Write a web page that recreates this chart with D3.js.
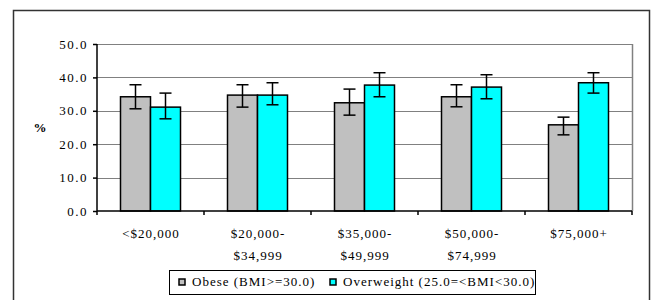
<!DOCTYPE html>
<html><head><meta charset="utf-8">
<script src="https://cdn.jsdelivr.net/npm/d3@7"></script>
<style>body{margin:0;background:#fff}svg{display:block}text{font-family:"Liberation Serif","Times New Roman",serif;fill:#000}</style>
</head><body><svg id="c" width="652" height="300"></svg>
<script>
const categories = [["<$20,000"], ["$20,000-", "$34,999"], ["$35,000-", "$49,999"], ["$50,000-", "$74,999"], ["$75,000+"]];
const seriesNames = ["Obese (BMI>=30.0)", "Overweight (25.0=<BMI<30.0)"];
const obese = [34.2, 34.7, 32.4, 34.2, 25.8];
const obeseLow = [30.6, 31.1, 28.7, 31.2, 22.8];
const obeseHigh = [37.8, 37.8, 36.5, 37.8, 28.1];
const overweight = [31.1, 34.7, 37.7, 37.1, 38.4];
const overweightLow = [27.6, 31.8, 34.2, 33.6, 35.3];
const overweightHigh = [35.3, 38.4, 41.4, 40.8, 41.4];
const yTicks = [0, 10, 20, 30, 40, 50];
const colors = ["#c0c0c0", "#00ffff"];

const svg = d3.select("#c");
const L = 97, R = 632, T = 44, B = 211;

svg.append("rect").attr("x", 13.5).attr("y", 10.5).attr("width", 636).attr("height", 295)
  .attr("fill", "none").attr("stroke", "#333").attr("stroke-width", 1.5);

const x = d3.scaleBand().domain(d3.range(categories.length)).range([L, R]);
const xs = d3.scaleBand().domain([0, 1]).range([0, 60]);
const y = d3.scaleLinear().domain([0, 50]).range([B, T]);

// grid
svg.append("g").selectAll("line").data(yTicks.filter(d => d > 0)).join("line")
  .attr("x1", L).attr("x2", R).attr("y1", d => Math.round(y(d)) + 0.5).attr("y2", d => Math.round(y(d)) + 0.5)
  .attr("stroke", "#808080").attr("stroke-width", 1);
svg.append("line").attr("x1", R + 0.5).attr("x2", R + 0.5).attr("y1", T).attr("y2", B)
  .attr("stroke", "#808080").attr("stroke-width", 1.5);

const series = [
  {v: obese, lo: obeseLow, hi: obeseHigh},
  {v: overweight, lo: overweightLow, hi: overweightHigh}
];
series.forEach((s, si) => {
  const g = svg.append("g");
  g.selectAll("rect").data(s.v).join("rect")
    .attr("x", (d, i) => x(i) + (x.bandwidth() - 60) / 2 + xs(si))
    .attr("y", d => y(d)).attr("width", xs.bandwidth()).attr("height", d => B - y(d))
    .attr("fill", colors[si]).attr("stroke", "#000").attr("stroke-width", 1.5);
});
series.forEach((s, si) => {
  const g = svg.append("g");
  s.v.forEach((d, i) => {
    const cx = x(i) + (x.bandwidth() - 60) / 2 + xs(si) + xs.bandwidth() / 2;
    g.append("line").attr("x1", cx).attr("x2", cx).attr("y1", y(s.lo[i])).attr("y2", y(s.hi[i])).attr("stroke", "#000").attr("stroke-width", 1.5);
    [s.lo[i], s.hi[i]].forEach(e => g.append("line").attr("x1", cx - 6).attr("x2", cx + 6).attr("y1", y(e)).attr("y2", y(e)).attr("stroke", "#000").attr("stroke-width", 1.5));
  });
});

// y axis
const ya = svg.append("g").attr("transform", `translate(${L},0)`)
  .call(d3.axisLeft(y).tickValues(yTicks).tickFormat(d3.format(".1f")).tickSize(4).tickPadding(5));
ya.select(".domain").attr("stroke", "#000").attr("stroke-width", 1.5).attr("d", `M0,${T}V${B}`);
ya.selectAll(".tick line").attr("stroke", "#000").attr("stroke-width", 1.5);
ya.selectAll(".tick text").attr("font-size", 13).style("font-family", "Liberation Serif").style("letter-spacing", "1.5px").attr("fill", "#000");

// x axis
const xa = svg.append("g").attr("transform", `translate(0,${B})`);
xa.append("line").attr("x1", L).attr("x2", R).attr("y1", 0).attr("y2", 0).attr("stroke", "#000").attr("stroke-width", 1.5);
xa.selectAll("line.t").data(d3.range(categories.length + 1)).join("line").attr("class", "t")
  .attr("x1", d => d < categories.length ? x(d) : R).attr("x2", d => d < categories.length ? x(d) : R)
  .attr("y1", 0).attr("y2", 4).attr("stroke", "#000").attr("stroke-width", 1.5);
categories.forEach((c, i) => {
  const t = xa.append("text").attr("text-anchor", "middle").attr("font-size", 13).style("letter-spacing", "1px");
  c.forEach((line, j) => t.append("tspan").attr("x", x(i) + x.bandwidth() / 2 + 0.5).attr("y", 26.5 + j * 22.5).text(line));
});

svg.append("text").attr("x", 40).attr("y", 132).attr("text-anchor", "middle").attr("font-size", 13).attr("font-weight", "bold").text("%");

// legend
const lg = svg.append("g");
lg.append("rect").attr("x", 169.5).attr("y", 270.5).attr("width", 366).attr("height", 24).attr("fill", "#fff").attr("stroke", "#000").attr("stroke-width", 1);
const legX = [179, 330];
seriesNames.forEach((n, i) => {
  lg.append("rect").attr("x", legX[i]).attr("y", 279).attr("width", 6).attr("height", 6).attr("fill", colors[i]).attr("stroke", "#000").attr("stroke-width", 1.5);
  lg.append("text").attr("x", legX[i] + 13).attr("y", 286).attr("font-size", 13).style("letter-spacing", "1px").text(n);
});
</script></body></html>
